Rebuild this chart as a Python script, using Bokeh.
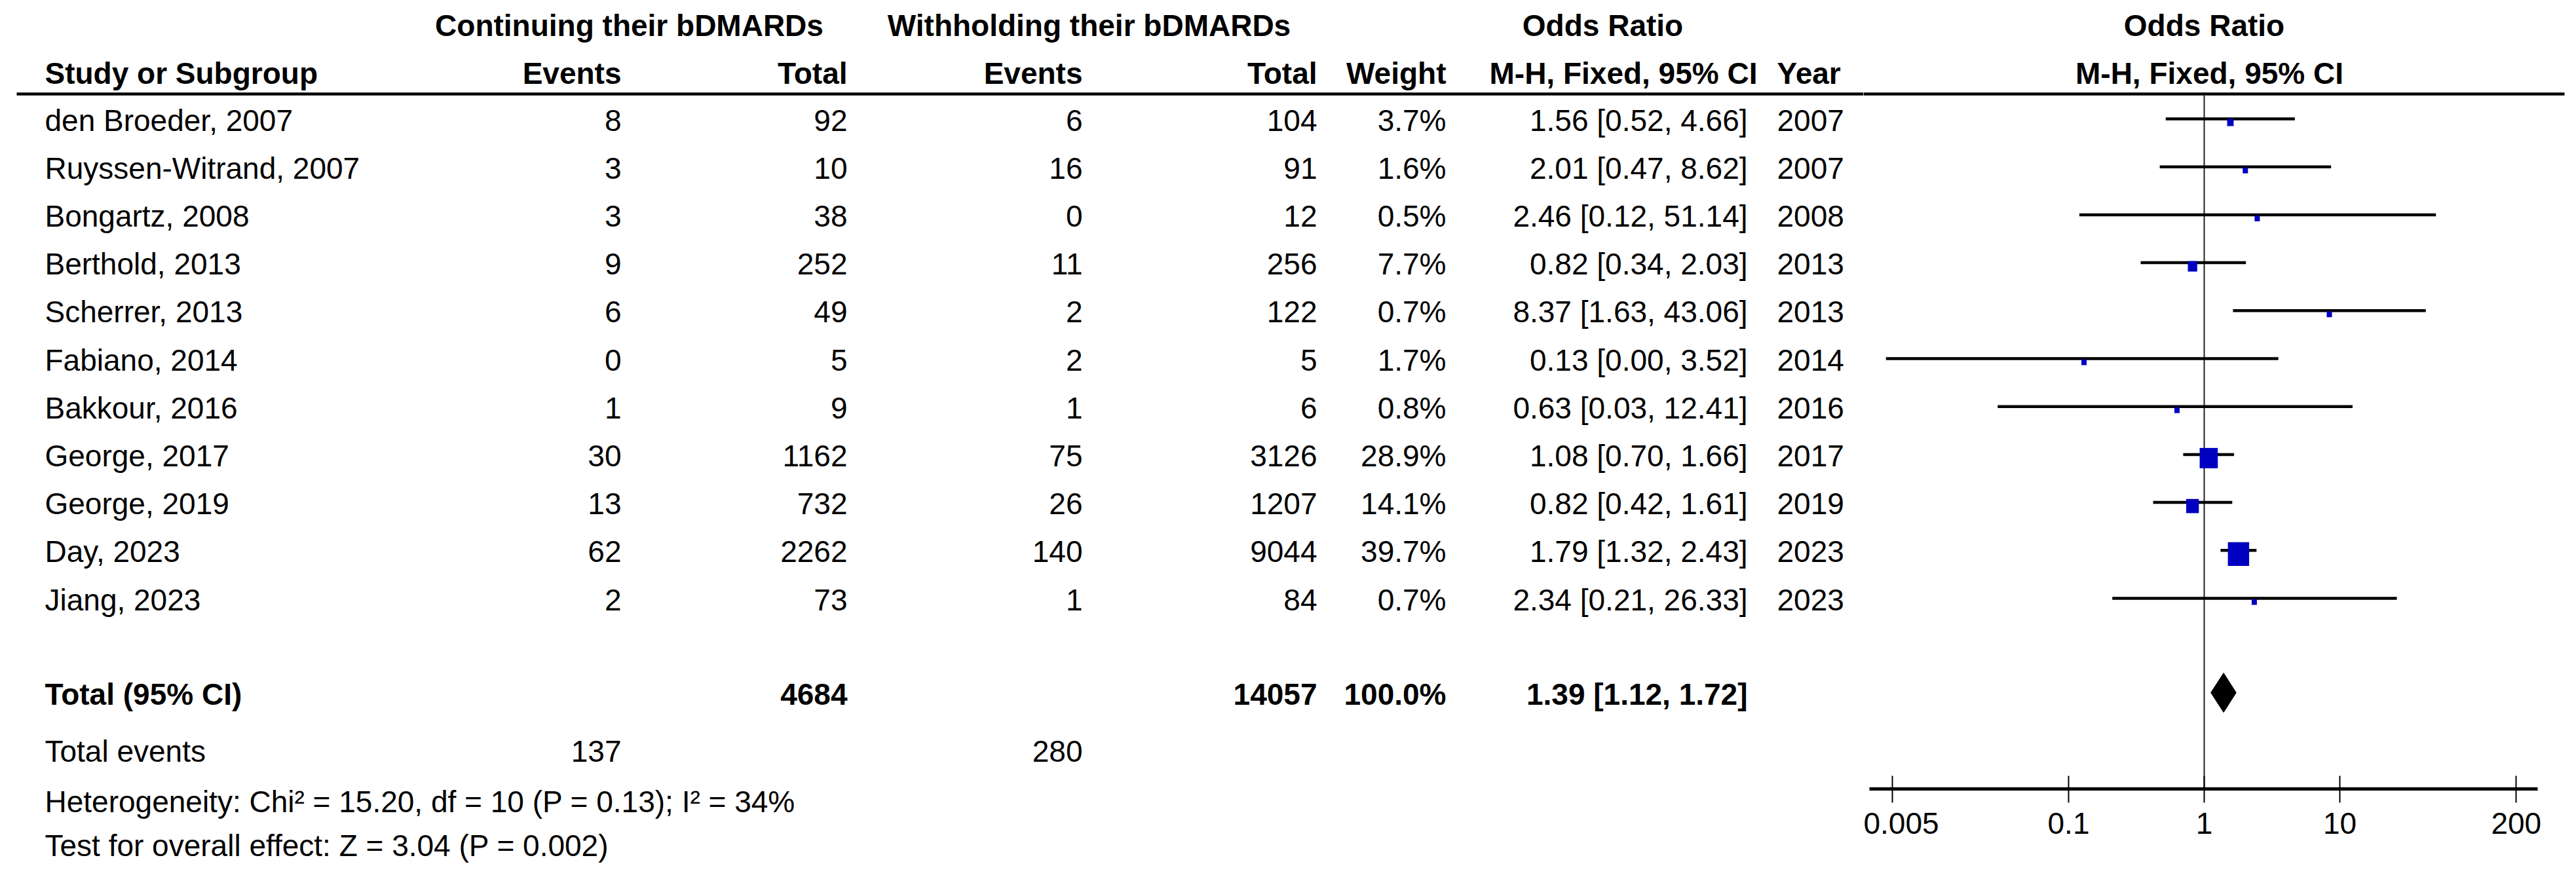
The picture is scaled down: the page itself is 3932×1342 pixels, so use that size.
from bokeh.plotting import figure
from bokeh.layouts import row
from bokeh.models import ColumnDataSource, Range1d, FixedTicker
from bokeh.core.properties import value
from bokeh.embed import file_html
from bokeh.resources import INLINE
import numpy as np

# ---------------- data ----------------
studies = ["den Broeder, 2007", "Ruyssen-Witrand, 2007", "Bongartz, 2008", "Berthold, 2013",
           "Scherrer, 2013", "Fabiano, 2014", "Bakkour, 2016", "George, 2017",
           "George, 2019", "Day, 2023", "Jiang, 2023"]
years = [2007, 2007, 2008, 2013, 2013, 2014, 2016, 2017, 2019, 2023, 2023]
cont_events = [8, 3, 3, 9, 6, 0, 1, 30, 13, 62, 2]
cont_total = [92, 10, 38, 252, 49, 5, 9, 1162, 732, 2262, 73]
with_events = [6, 16, 0, 11, 2, 2, 1, 75, 26, 140, 1]
with_total = [104, 91, 12, 256, 122, 5, 6, 3126, 1207, 9044, 84]
weights = [3.7, 1.6, 0.5, 7.7, 0.7, 1.7, 0.8, 28.9, 14.1, 39.7, 0.7]
odds_ratio = [1.56, 2.01, 2.46, 0.82, 8.37, 0.13, 0.63, 1.08, 0.82, 1.79, 2.34]
ci_low = [0.52, 0.47, 0.12, 0.34, 1.63, 0.0045, 0.03, 0.70, 0.42, 1.32, 0.21]
ci_high = [4.66, 8.62, 51.14, 2.03, 43.06, 3.52, 12.41, 1.66, 1.61, 2.43, 26.33]

total_cont = 4684
total_with = 14057
total_weight = 100.0
pooled = [1.39, 1.12, 1.72]          # OR, lower, upper
total_events = [137, 280]
heterogeneity = "Heterogeneity: Chi\u00b2 = 15.20, df = 10 (P = 0.13); I\u00b2 = 34%"
overall_effect = "Test for overall effect: Z = 3.04 (P = 0.002)"
group_headers = ["Continuing their bDMARDs", "Withholding their bDMARDs", "Odds Ratio"]
col_headers = ["Study or Subgroup", "Events", "Total", "Events", "Total", "Weight",
               "M-H, Fixed, 95% CI", "Year"]
axis_ticks = [0.005, 0.1, 1, 10, 200]
axis_tick_labels = ["0.005", "0.1", "1", "10", "200"]

# ---------------- layout (reference pixel coordinates) ----------------
FONT = value("Liberation Sans")
FS = "46px"
OFF = 0                 # page offset of the layout in the screenshot
W, H = 3916, 1326
SPLIT = 2844            # where the forest panel starts
X_ONE = 3364            # pixel of OR = 1
PX_DEC = 207.0          # pixels per decade
RULE_Y = 143
AXIS_Y = 1204
ROW0, ROW_H = 181.0, 73.2
TXT_SHIFT = -16         # correction of rendered text baseline
TXT_OFF = 18            # baseline below the CI line
NAME_X, CE_X, CT_X, WE_X, WT_X, WG_X, OR_X, YR_X = 68, 948, 1293, 1652, 2010, 2207, 2667, 2712


def px_to_or(px):
    return 10 ** ((px - X_ONE) / PX_DEC)


n = len(studies)
row_y = [ROW0 + ROW_H * i for i in range(n)]
sq_w = [max(8.0, 5.15 * np.sqrt(w)) for w in weights]
src = ColumnDataSource(dict(
    name=studies,
    ce=[str(v) for v in cont_events],
    ct=[str(v) for v in cont_total],
    we=[str(v) for v in with_events],
    wt=[str(v) for v in with_total],
    wg=["%.1f%%" % w for w in weights],
    ors=["%.2f [%.2f, %.2f]" % (o, l, h) for o, l, h in zip(odds_ratio, ci_low, ci_high)],
    yr=[str(v) for v in years],
    y=row_y,
    yt=[y + TXT_OFF + TXT_SHIFT for y in row_y],
    ysq=[y + 5.5 for y in row_y],
    orv=odds_ratio, lo=ci_low, hi=ci_high,
    sqw=sq_w, sqh=[s * 1.12 for s in sq_w],
))

common = dict(output_backend="svg", toolbar_location=None, outline_line_color=None,
              min_border_left=0, min_border_right=0, min_border_top=0,
              background_fill_color="white", border_fill_color="white")

# ---------------- table panel ----------------
p = figure(width=SPLIT - OFF, height=H, x_axis_type=None, y_axis_type=None,
           x_range=Range1d(OFF, SPLIT), y_range=Range1d(OFF + H, OFF),
           min_border_bottom=0, **common)
p.grid.visible = False


def txt(fig, x, y, t, align="left", bold=False, source=None):
    kw = dict(text_font=FONT, text_font_size=FS, text_color="black", text_align=align,
              text_baseline="alphabetic", text_font_style="bold" if bold else "normal")
    if source is None:
        fig.text(x=[x], y=[y + TXT_SHIFT], text=[t], **kw)
    else:
        fig.text(x=x, y=y, text=t, source=source, **kw)


# headers
txt(p, 960, 54.5, group_headers[0], "center", True)
txt(p, 1662, 54.5, group_headers[1], "center", True)
txt(p, 2446, 54.5, group_headers[2], "center", True)
hdr_pos = [(NAME_X, "left"), (CE_X, "right"), (CT_X, "right"), (WE_X, "right"),
           (WT_X, "right"), (WG_X, "right"), (2273, "left"), (YR_X, "left")]
for (hx, ha), ht in zip(hdr_pos, col_headers):
    txt(p, hx, 127, ht, ha, True)
p.segment(x0=[25], y0=[RULE_Y], x1=[SPLIT], y1=[RULE_Y], line_width=4.5, line_color="black")

# study rows
for col, cx, ca in [("name", NAME_X, "left"), ("ce", CE_X, "right"), ("ct", CT_X, "right"),
                    ("we", WE_X, "right"), ("wt", WT_X, "right"), ("wg", WG_X, "right"),
                    ("ors", OR_X, "right"), ("yr", YR_X, "left")]:
    txt(p, cx, "yt", col, ca, False, src)

# totals
TOT_Y = 1075.5
txt(p, NAME_X, TOT_Y, "Total (95% CI)", "left", True)
txt(p, CT_X, TOT_Y, str(total_cont), "right", True)
txt(p, WT_X, TOT_Y, str(total_with), "right", True)
txt(p, WG_X, TOT_Y, "%.1f%%" % total_weight, "right", True)
txt(p, OR_X, TOT_Y, "%.2f [%.2f, %.2f]" % tuple(pooled), "right", True)
txt(p, NAME_X, 1162, "Total events", "left")
txt(p, CE_X, 1162, str(total_events[0]), "right")
txt(p, WE_X, 1162, str(total_events[1]), "right")
txt(p, NAME_X, 1239, heterogeneity, "left")
txt(p, NAME_X, 1306, overall_effect, "left")

# ---------------- forest panel ----------------
fp = figure(width=W - (SPLIT - OFF), height=H, x_axis_type="log", y_axis_type=None,
            x_range=Range1d(px_to_or(SPLIT), px_to_or(OFF + W)),
            y_range=Range1d(AXIS_Y, OFF),
            min_border_bottom=OFF + H - AXIS_Y, **common)
fp.grid.visible = False

txt(fp, px_to_or(3364), 54.5, group_headers[2], "center", True)
txt(fp, px_to_or(3372), 127, col_headers[6], "center", True)
fp.segment(x0=[px_to_or(SPLIT)], y0=[RULE_Y], x1=[px_to_or(3914)], y1=[RULE_Y],
           line_width=4.5, line_color="black")

# line of no effect
fp.segment(x0=[1], y0=[RULE_Y], x1=[1], y1=[AXIS_Y], line_width=2, line_color="#222222")

# CIs and squares
fp.segment(x0="lo", y0="y", x1="hi", y1="y", source=src, line_width=4.5, line_color="black")
fp.rect(x="orv", y="ysq", width="sqw", height="sqh", width_units="screen",
        height_units="screen", source=src, fill_color="#0000C0", line_color=None)

# pooled diamond
DY = 1057
fp.patch(x=[pooled[1], pooled[0], pooled[2], pooled[0]], y=[DY, DY - 30, DY, DY + 30],
         fill_color="black", line_color="black", line_width=1)

ax = fp.xaxis[0]
ax.ticker = FixedTicker(ticks=axis_ticks)
ax.major_label_overrides = {float(t): l for t, l in zip(axis_ticks, axis_tick_labels)}
ax.bounds = (px_to_or(2853), px_to_or(3873))
ax.axis_line_width = 5
ax.axis_line_color = "black"
ax.major_tick_line_width = 2
ax.major_tick_line_color = "black"
ax.major_tick_in = 20
ax.major_tick_out = 21
ax.minor_tick_line_color = None
ax.major_label_text_font = "Liberation Sans"
ax.major_label_text_font_size = FS
ax.major_label_text_color = "black"
ax.major_label_standoff = 15

# keep each panel's frame at its own size (no frame alignment across the row)
for fig in (p, fp):
    if "frame_align" in fig.properties():
        fig.frame_align = False

layout = row(p, fp)
open("out.html", "w").write(file_html(layout, INLINE))
